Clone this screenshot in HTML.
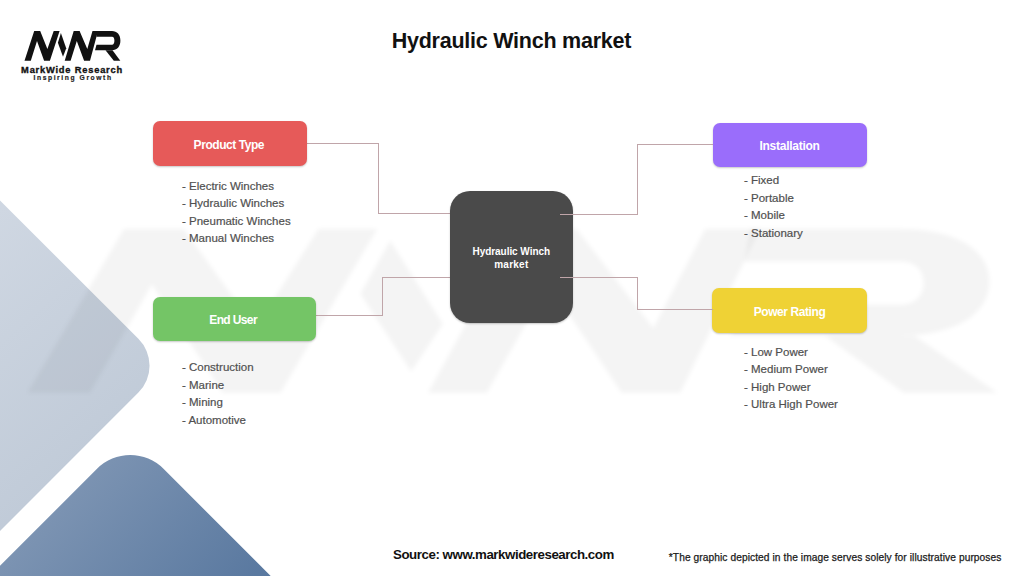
<!DOCTYPE html>
<html><head><meta charset="utf-8">
<style>
html,body{margin:0;padding:0;}
body{width:1024px;height:576px;position:relative;overflow:hidden;background:#fff;font-family:"Liberation Sans",sans-serif;}
.abs{position:absolute;}
.box{position:absolute;border-radius:7px;box-shadow:0 1px 2px rgba(0,0,0,0.22);}
.box span{position:absolute;left:0;right:0;white-space:nowrap;}
.list{position:absolute;color:#505050;-webkit-text-stroke:0.2px #505050;font-size:11.5px;line-height:17.5px;white-space:nowrap;}
.ln{position:absolute;background:#c0a5a9;}
.lbl{position:absolute;color:#fff;font-weight:bold;line-height:1;white-space:nowrap;}
</style></head>
<body>
<!-- background shapes -->
<svg class="abs" style="left:0;top:0" width="1024" height="576" viewBox="0 0 1024 576">
  <defs>
    <linearGradient id="g1" x1="0.3" y1="0" x2="0.7" y2="1">
      <stop offset="0" stop-color="#cfd7e2"/>
      <stop offset="1" stop-color="#bcc7d5"/>
    </linearGradient>
    <linearGradient id="g2" x1="0" y1="0.3" x2="1" y2="0.7">
      <stop offset="0" stop-color="#879cb8"/>
      <stop offset="1" stop-color="#5a79a0"/>
    </linearGradient>
    <filter id="blur" x="-10%" y="-10%" width="120%" height="120%"><feGaussianBlur stdDeviation="2.2"/></filter>
    
    
  </defs>
  <path d="M -20 180.4 L 138.4 338.8 A 38 38 0 0 1 138.4 392.6 L -20 551 Z" fill="url(#g1)"/>
  <path d="M -20 585.8 L 97 468.8 A 47 47 0 0 1 163.5 468.8 L 280.7 586 Z" fill="url(#g2)"/>
  <g filter="url(#blur)"><g transform="matrix(9.97,0,0,5.5,-217,59)" fill="rgba(0,0,0,0.045)">
      <polygon points="24.5,60.7 30.8,60.7 37,41 44.1,60.7 49.9,60.7 59.6,30.9 53.7,30.9 47.4,48.9 40.2,30.9 34.2,30.9"/>
      <polygon points="60.9,33 57.9,42.7 63,56.8 66.2,48.2"/>
      <polygon points="64.7,60.7 70.6,60.7 76.8,40.9 84.1,60.7 90,60.7 98,30.9 92.5,30.9 87.3,48.9 79.6,30.9 73.7,30.9"/>
      <path d="M 97 30.9 L 112 30.9 C 117.5 30.9 121 34.5 121 40.5 C 121 46.5 117.5 50.3 112 50.3 L 95 50.3 L 96.5 44.7 L 112 44.7 C 113.6 44.7 114.4 43 114.4 40.7 C 114.4 38.4 113.6 36.8 112 36.8 L 96.4 36.8 Z"/>
      <polygon points="104.5,50.3 113.5,50.3 121.8,60.7 112.4,60.7"/>
    </g></g>
  <g fill="#111">
      <polygon points="24.5,60.7 30.8,60.7 37,41 44.1,60.7 49.9,60.7 59.6,30.9 53.7,30.9 47.4,48.9 40.2,30.9 34.2,30.9"/>
      <polygon points="60.9,33 57.9,42.7 63,56.8 66.2,48.2"/>
      <polygon points="64.7,60.7 70.6,60.7 76.8,40.9 84.1,60.7 90,60.7 98,30.9 92.5,30.9 87.3,48.9 79.6,30.9 73.7,30.9"/>
      <path d="M 97 30.9 L 112 30.9 C 117 30.9 120.4 34.5 120.4 40.5 C 120.4 46.5 117 50.3 112 50.3 L 95 50.3 L 96.5 44.7 L 112 44.7 C 113.6 44.7 114.4 43 114.4 40.7 C 114.4 38.4 113.6 36.8 112 36.8 L 96.4 36.8 Z"/>
      <polygon points="105.5,50.3 112.5,50.3 120.3,60.7 113.8,60.7"/>
    </g>
</svg>

<!-- logo -->
<div class="abs" style="left:21.1px;top:65.9px;line-height:1;font-size:9.3px;letter-spacing:0.8px;font-weight:bold;color:#111;-webkit-text-stroke:0.35px #111;white-space:nowrap;">MarkWide Research</div>
<div class="abs" style="left:33.5px;top:75px;line-height:1;font-size:6.7px;letter-spacing:1.6px;font-weight:bold;color:#222;-webkit-text-stroke:0.2px #222;white-space:nowrap;">Inspiring Growth</div>

<!-- title -->
<div class="abs" style="left:391.7px;top:30.9px;line-height:1;font-size:21.5px;letter-spacing:-0.24px;font-weight:bold;color:#111;white-space:nowrap;">Hydraulic Winch market</div>

<!-- connectors -->
<div class="ln" style="left:306px;top:143px;width:73px;height:1px"></div>
<div class="ln" style="left:378px;top:143px;width:1px;height:71px"></div>
<div class="ln" style="left:378px;top:213px;width:72px;height:1px"></div>

<div class="ln" style="left:315px;top:315px;width:68px;height:1px"></div>
<div class="ln" style="left:382px;top:277px;width:1px;height:39px"></div>
<div class="ln" style="left:382px;top:277px;width:68px;height:1px"></div>

<!-- boxes -->
<div class="box" style="left:153px;top:121px;width:153.5px;height:44.5px;background:#e65a59;"></div>
<div class="box" style="left:713px;top:122.5px;width:154px;height:44px;background:#9a6dfb;"></div>
<div class="box" style="left:712.3px;top:288.2px;width:154.7px;height:44.5px;background:#efd235;"></div>
<div class="box" style="left:153px;top:296.9px;width:162.7px;height:44px;background:#74c566;"></div>
<div class="box" style="left:450px;top:190.5px;width:122.7px;height:132.7px;border-radius:20px;background:#4a4a4a;"></div>

<div class="ln" style="left:560px;top:214px;width:77px;height:1px"></div>
<div class="ln" style="left:637px;top:144px;width:1px;height:71px"></div>
<div class="ln" style="left:637px;top:144px;width:76px;height:1px"></div>

<div class="ln" style="left:560px;top:277px;width:77px;height:1px"></div>
<div class="ln" style="left:636.5px;top:277px;width:1px;height:33px"></div>
<div class="ln" style="left:636.5px;top:309px;width:76px;height:1px"></div>

<div class="lbl" style="left:193.6px;top:139px;font-size:12px;letter-spacing:-0.44px">Product Type</div>
<div class="lbl" style="left:759.5px;top:139.7px;font-size:12px;letter-spacing:-0.27px">Installation</div>
<div class="lbl" style="left:753.7px;top:306px;font-size:12px;letter-spacing:-0.42px">Power Rating</div>
<div class="lbl" style="left:209.3px;top:314.3px;font-size:12px;letter-spacing:-0.63px">End User</div>
<div class="lbl" style="left:472.5px;top:247.4px;font-size:10px;letter-spacing:-0.05px">Hydraulic Winch</div>
<div class="lbl" style="left:494.2px;top:260px;font-size:10px;letter-spacing:0.25px">market</div>

<!-- lists -->
<div class="list" style="left:182px;top:177.8px">- Electric Winches<br>- Hydraulic Winches<br>- Pneumatic Winches<br>- Manual Winches</div>
<div class="list" style="left:744px;top:172px">- Fixed<br>- Portable<br>- Mobile<br>- Stationary</div>
<div class="list" style="left:744px;top:343.8px">- Low Power<br>- Medium Power<br>- High Power<br>- Ultra High Power</div>
<div class="list" style="left:182px;top:359px">- Construction<br>- Marine<br>- Mining<br>- Automotive</div>

<!-- footer -->
<div class="abs" style="left:393px;top:547.7px;line-height:1;font-size:13.3px;letter-spacing:-0.45px;font-weight:bold;color:#111;white-space:nowrap;">Source: www.markwideresearch.com</div>
<div class="abs" style="left:668.8px;top:552.5px;line-height:1;font-size:10.2px;letter-spacing:0.08px;color:#1a1a1a;-webkit-text-stroke:0.25px #1a1a1a;white-space:nowrap;">*The graphic depicted in the image serves solely for illustrative purposes</div>
</body></html>
